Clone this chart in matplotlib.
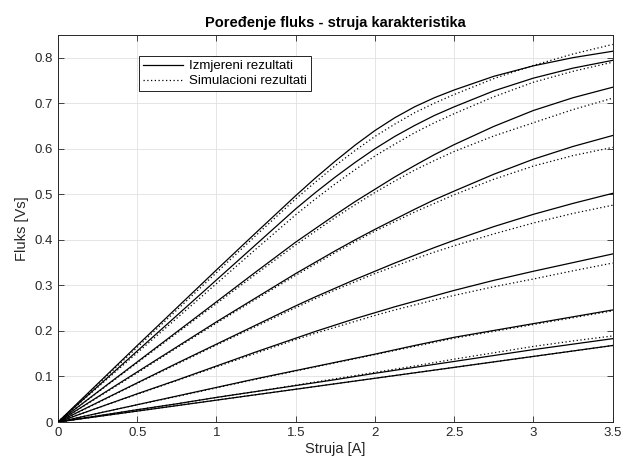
import matplotlib
matplotlib.use("Agg")
import matplotlib.pyplot as plt
from matplotlib.ticker import FuncFormatter

plt.rcParams['font.family'] = ['Liberation Sans', 'DejaVu Sans']

struja = [0, 0.25, 0.5, 0.75, 1.0, 1.25, 1.5, 1.625, 1.75, 1.875, 2.0,
          2.125, 2.25, 2.375, 2.5, 2.75, 3.0, 3.25, 3.5]

izmjereni = [
    [0, 0.084, 0.168, 0.251, 0.334, 0.416, 0.497, 0.536, 0.573, 0.608, 0.640, 0.668, 0.692, 0.712, 0.729, 0.759, 0.782, 0.800, 0.814],
    [0, 0.078, 0.156, 0.234, 0.312, 0.390, 0.468, 0.504, 0.538, 0.570, 0.600, 0.627, 0.651, 0.673, 0.692, 0.727, 0.755, 0.777, 0.794],
    [0, 0.066, 0.132, 0.198, 0.264, 0.330, 0.395, 0.425, 0.455, 0.484, 0.511, 0.538, 0.563, 0.587, 0.609, 0.649, 0.684, 0.712, 0.735],
    [0, 0.055, 0.110, 0.165, 0.220, 0.273, 0.326, 0.351, 0.376, 0.400, 0.423, 0.445, 0.467, 0.488, 0.507, 0.544, 0.577, 0.605, 0.629],
    [0, 0.043, 0.086, 0.129, 0.171, 0.213, 0.255, 0.275, 0.294, 0.313, 0.331, 0.349, 0.366, 0.383, 0.399, 0.429, 0.456, 0.480, 0.502],
    [0, 0.031, 0.062, 0.092, 0.123, 0.154, 0.184, 0.199, 0.213, 0.227, 0.240, 0.253, 0.265, 0.277, 0.289, 0.311, 0.331, 0.350, 0.369],
    [0, 0.019, 0.038, 0.057, 0.076, 0.095, 0.113, 0.122, 0.131, 0.140, 0.149, 0.1585, 0.168, 0.177, 0.186, 0.201, 0.216, 0.231, 0.246],
    [0, 0.0135, 0.027, 0.040, 0.054, 0.067, 0.080, 0.0865, 0.093, 0.100, 0.107, 0.1135, 0.120, 0.1265, 0.133, 0.146, 0.159, 0.171, 0.183],
    [0, 0.012, 0.024, 0.036, 0.048, 0.060, 0.072, 0.078, 0.084, 0.090, 0.096, 0.102, 0.108, 0.114, 0.120, 0.132, 0.144, 0.156, 0.168],
]

simulacioni = [
    [0, 0.082, 0.164, 0.246, 0.328, 0.410, 0.490, 0.527, 0.563, 0.596, 0.627, 0.654, 0.679, 0.700, 0.719, 0.754, 0.783, 0.808, 0.829],
    [0, 0.076, 0.152, 0.228, 0.304, 0.380, 0.455, 0.490, 0.523, 0.554, 0.584, 0.610, 0.635, 0.657, 0.677, 0.714, 0.746, 0.770, 0.790],
    [0, 0.065, 0.130, 0.195, 0.260, 0.325, 0.389, 0.419, 0.449, 0.477, 0.504, 0.529, 0.553, 0.574, 0.594, 0.628, 0.657, 0.686, 0.711],
    [0, 0.054, 0.108, 0.163, 0.217, 0.270, 0.322, 0.347, 0.372, 0.396, 0.419, 0.440, 0.461, 0.480, 0.499, 0.533, 0.562, 0.585, 0.603],
    [0, 0.042, 0.085, 0.127, 0.169, 0.210, 0.251, 0.271, 0.290, 0.308, 0.326, 0.342, 0.358, 0.373, 0.387, 0.413, 0.437, 0.458, 0.476],
    [0, 0.031, 0.061, 0.091, 0.121, 0.151, 0.181, 0.195, 0.208, 0.221, 0.234, 0.246, 0.257, 0.268, 0.278, 0.297, 0.314, 0.332, 0.349],
    [0, 0.019, 0.038, 0.056, 0.075, 0.094, 0.112, 0.121, 0.130, 0.139, 0.148, 0.157, 0.166, 0.175, 0.184, 0.199, 0.214, 0.229, 0.244],
    [0, 0.0135, 0.027, 0.040, 0.054, 0.067, 0.081, 0.088, 0.095, 0.102, 0.109, 0.116, 0.123, 0.1305, 0.138, 0.152, 0.166, 0.178, 0.189],
    [0, 0.012, 0.024, 0.036, 0.048, 0.060, 0.072, 0.078, 0.084, 0.090, 0.096, 0.102, 0.108, 0.114, 0.120, 0.132, 0.144, 0.156, 0.168],
]

xticks = [0, 0.5, 1, 1.5, 2, 2.5, 3, 3.5]
yticks = [0, 0.1, 0.2, 0.3, 0.4, 0.5, 0.6, 0.7, 0.8]

fig = plt.figure(figsize=(6.26, 4.71), dpi=100)
ax = fig.add_axes([0.0927, 0.104, 0.886, 0.822])

for i, (m, s) in enumerate(zip(izmjereni, simulacioni)):
    ax.plot(struja, m, color='black', lw=0.9, ls='-',
            label='Izmjereni rezultati' if i == 0 else None, zorder=3)
    ax.plot(struja, s, color='black', lw=0.9, ls=(0, (1, 2)),
            label='Simulacioni rezultati' if i == 0 else None, zorder=3)

ax.set_xlim(0, 3.5)
ax.set_ylim(0, 0.85)
ax.set_xticks(xticks)
ax.set_yticks(yticks)
fmt = FuncFormatter(lambda v, p: '0' if abs(v) < 1e-9 else ('%g' % v))
ax.xaxis.set_major_formatter(fmt)
ax.yaxis.set_major_formatter(fmt)
ax.grid(True, color='#e0e0e0', lw=0.6)
ax.set_axisbelow(True)
ax.tick_params(direction='in', top=True, right=True, length=4, width=0.6,
               colors='#262626', labelsize=9.5)
for sp in ax.spines.values():
    sp.set_color('#262626')
    sp.set_linewidth(0.7)

ax.set_xlabel('Struja [A]', fontsize=10.5, color='#262626', labelpad=2)
ax.set_ylabel('Fluks [Vs]', fontsize=10.5, color='#262626', labelpad=4)
ax.set_title('Poređenje fluks - struja karakteristika', fontsize=10.5,
             fontweight='bold', color='black', pad=6)

leg = ax.legend(loc='upper left', bbox_to_anchor=(0.146, 0.945), fontsize=9.5,
                frameon=True, fancybox=False, edgecolor='black', framealpha=1,
                handlelength=3.0, handletextpad=0.5, borderpad=0.3,
                labelspacing=0.2, borderaxespad=0)
leg.get_frame().set_linewidth(0.6)

fig.savefig('out.png', dpi=100)
